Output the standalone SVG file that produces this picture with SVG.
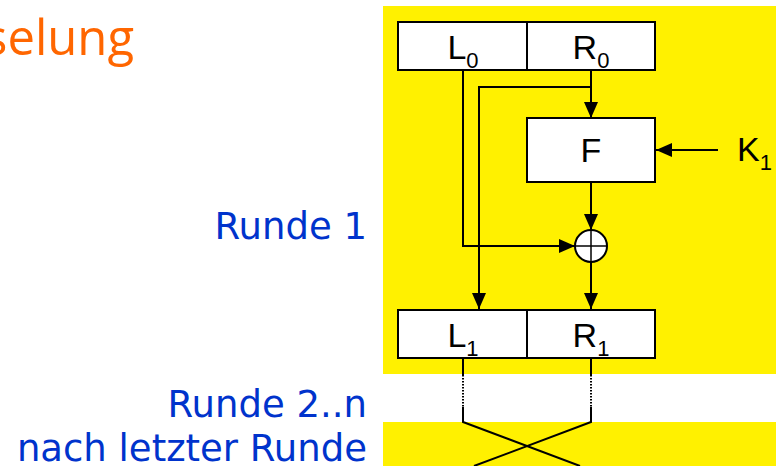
<svg xmlns="http://www.w3.org/2000/svg" width="776" height="466" viewBox="0 0 776 466">
<style>
.bg{fill:#FFF100}
.box{fill:#FFFFFF;stroke:#000;stroke-width:2}
.ln{fill:none;stroke:#000;stroke-width:2}
.dot{fill:none;stroke:#000;stroke-width:2;stroke-dasharray:1.5 1.5}
.lbl{font-family:"Liberation Sans",Arial,sans-serif;font-size:34px;fill:#000}
.sub{font-size:22px}
.blue{font-family:"DejaVu Sans",Verdana,sans-serif;font-size:37px;fill:#0033CC;text-anchor:end}
.title{font-family:"Open Sans","Noto Sans",sans-serif;font-size:49px;fill:#FF6600}
</style>
<defs>
<marker id="arr" markerUnits="userSpaceOnUse" markerWidth="16" markerHeight="14" viewBox="0 0 16 14" refX="16" refY="7" orient="auto">
<path d="M0,0 L16,7 L0,14 z" fill="#000"/>
</marker>
</defs>
<rect class="bg" x="383" y="6" width="393" height="368"/>
<rect class="bg" x="383" y="422" width="393" height="44"/>
<text class="title" x="134" y="55" text-anchor="end">selung</text>
<text class="blue" x="367" y="239">Runde 1</text>
<text class="blue" x="367" y="417">Runde 2..n</text>
<text class="blue" x="367" y="461">nach letzter Runde</text>
<g id="connectors">
<path class="ln" d="M463,70 V246 H575" marker-end="url(#arr)"/>
<path class="ln" d="M591,70 V118" marker-end="url(#arr)"/>
<path class="ln" d="M591,87 H479 V309" marker-end="url(#arr)"/>
<path class="ln" d="M591,182 V230" marker-end="url(#arr)"/>
<path class="ln" d="M591,262 V309" marker-end="url(#arr)"/>
<path class="ln" d="M718,150 H656" marker-end="url(#arr)"/>
<path class="ln" d="M463,358 V375"/>
<path class="dot" d="M463,375 V407"/>
<path class="ln" d="M463,407 V422 L580,466"/>
<path class="ln" d="M591,358 V375"/>
<path class="dot" d="M591,375 V407"/>
<path class="ln" d="M591,407 V422 L474,466"/>
</g>
<g id="L0R0">
<rect class="box" x="398" y="22" width="257" height="48"/>
<line class="ln" x1="527" y1="22" x2="527" y2="70"/>
<text class="lbl" x="463" y="59" text-anchor="middle">L<tspan class="sub" dy="9">0</tspan></text>
<text class="lbl" x="591" y="59" text-anchor="middle">R<tspan class="sub" dy="9">0</tspan></text>
</g>
<g id="F">
<rect class="box" x="527" y="118" width="128" height="64"/>
<text class="lbl" x="591" y="162" text-anchor="middle">F</text>
</g>
<g id="K1">
<text class="lbl" x="737" y="161">K<tspan class="sub" dy="9">1</tspan></text>
</g>
<g id="xor">
<circle cx="591" cy="246" r="16" fill="#FFFFFF" stroke="#000" stroke-width="2"/>
<line x1="575" y1="246" x2="607" y2="246" stroke="#000" stroke-width="1.5"/>
<line x1="591" y1="230" x2="591" y2="262" stroke="#000" stroke-width="1.5"/>
</g>
<g id="L1R1">
<rect class="box" x="398" y="310" width="257" height="48"/>
<line class="ln" x1="527" y1="310" x2="527" y2="358"/>
<text class="lbl" x="463" y="347" text-anchor="middle">L<tspan class="sub" dy="9">1</tspan></text>
<text class="lbl" x="591" y="347" text-anchor="middle">R<tspan class="sub" dy="9">1</tspan></text>
</g>
</svg>
